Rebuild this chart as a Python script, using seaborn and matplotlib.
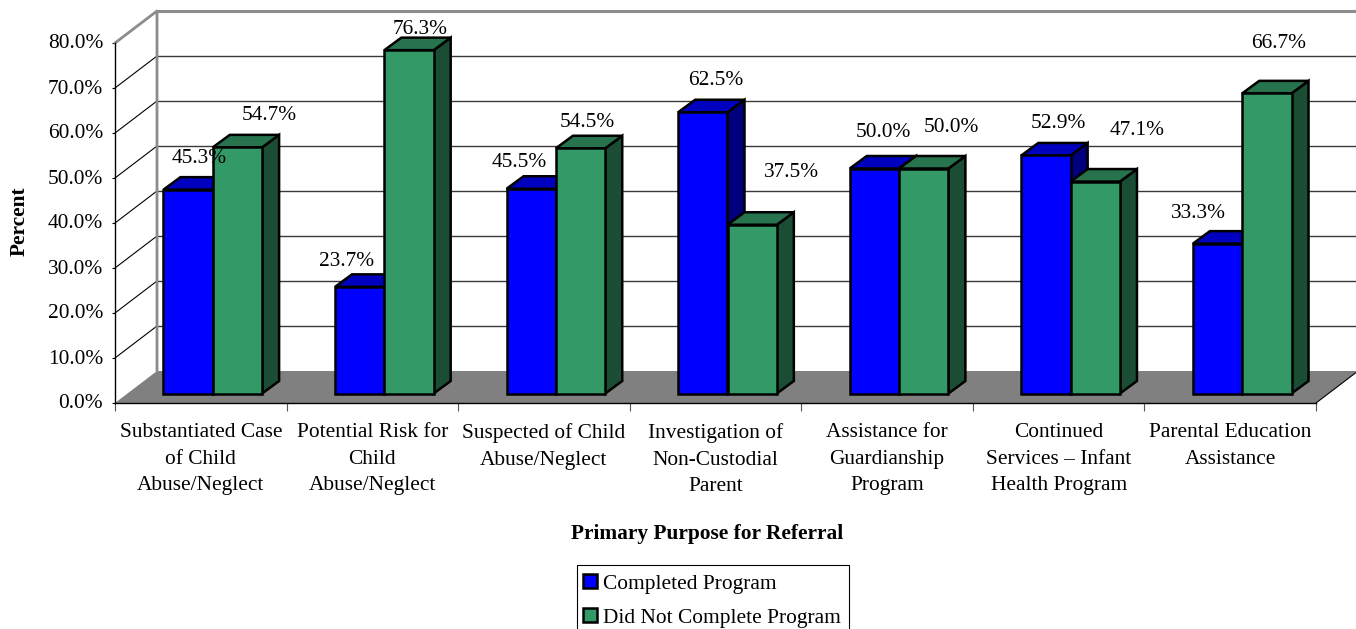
import matplotlib
matplotlib.use("Agg")
import matplotlib.pyplot as plt
from matplotlib.patches import Polygon, Patch, Rectangle
from matplotlib.transforms import Affine2D
import pandas as pd
import seaborn as sns

categories = [
    "Substantiated Case\nof Child\nAbuse/Neglect",
    "Potential Risk for\nChild\nAbuse/Neglect",
    "Suspected of Child\nAbuse/Neglect",
    "Investigation of\nNon-Custodial\nParent",
    "Assistance for\nGuardianship\nProgram",
    "Continued\nServices \u2013 Infant\nHealth Program",
    "Parental Education\nAssistance",
]
completed = [45.3, 23.7, 45.5, 62.5, 50.0, 52.9, 33.3]
not_completed = [54.7, 76.3, 54.5, 37.5, 50.0, 47.1, 66.7]
series_names = ["Completed Program", "Did Not Complete Program"]
y_ticks = [0, 10, 20, 30, 40, 50, 60, 70, 80]

# hand-placed label nudges in pixels from the top centre of each bar
label_nudges = [
    (11, 31), (-13, 25), (-12, 26), (13, 32), (9, 36), (12, 32), (-19, 30),
    (32, 32), (11, 21), (7, 26), (39, 52), (28, 41), (42, 51), (12, 50),
]

W, H = 1356, 629
DPI = 100
FONT_SIZE = 15.4
EDGE = 1.8
FRONT = "#0000FF", "#339966"
TOPS = "#0000BF", "#26734D"
SIDES = "#00007F", "#1A4D33"
WALL_GREY = "#8C8C8C"
GRID = "#3A3A3A"

sns.set_theme(style="white")
plt.rcParams["font.family"] = ["Liberation Serif", "DejaVu Serif"]
plt.rcParams["font.size"] = FONT_SIZE

fig = plt.figure(figsize=(W / DPI, H / DPI), dpi=DPI, facecolor="white")


def pixel_axes(left, right, top, bottom):
    return fig.add_axes([left / W, 1 - bottom / H, (right - left) / W, (bottom - top) / H])


# front plane of the chart box, and the plane the bars stand on
ax = pixel_axes(115, 1316, 43, 403)
bar_ax = pixel_axes(127, 1328, 33.5, 393.5)

xlim = (-0.5, 6.5)
ylim = (0, 80)
px_x = (xlim[1] - xlim[0]) / 1201
px_y = (ylim[1] - ylim[0]) / 360
wall_dx, wall_dy = 42 * px_x, 32 * px_y
bar_dx, bar_dy = 17 * px_x, 12.5 * px_y

ax.set_xlim(xlim)
ax.set_ylim(ylim)
ax.patch.set_visible(False)
ax.set_zorder(1)
bar_ax.set_zorder(2)

# floor and box walls
ax.add_patch(Polygon(
    [(xlim[0], 0), (xlim[1], 0), (xlim[1] + wall_dx, wall_dy), (xlim[0] + wall_dx, wall_dy)],
    closed=True, facecolor="#808080", edgecolor="none", clip_on=False, zorder=1,
))
for v in y_ticks[1:-1]:
    ax.plot([xlim[0], xlim[0] + wall_dx], [v, v + wall_dy], color="black", lw=0.8, clip_on=False, zorder=1)
    ax.plot([xlim[0] + wall_dx, xlim[1] + wall_dx], [v + wall_dy, v + wall_dy],
            color=GRID, lw=1.0, clip_on=False, zorder=1)
ax.plot([xlim[0], xlim[0] + wall_dx, xlim[0] + wall_dx],
        [80, 80 + wall_dy, wall_dy], color=WALL_GREY, lw=2.0, clip_on=False, zorder=1)
ax.plot([xlim[0] + wall_dx, xlim[1] + wall_dx], [80 + wall_dy, 80 + wall_dy],
        color=WALL_GREY, lw=2.2, clip_on=False, zorder=1)
ax.plot([xlim[1], xlim[1] + wall_dx], [0, wall_dy], color="black", lw=0.8, clip_on=False, zorder=1)

# axes, ticks and titles
for side in ("top", "right"):
    ax.spines[side].set_visible(False)
for side in ("left", "bottom"):
    ax.spines[side].set_color("black")
    ax.spines[side].set_linewidth(1.0)
ax.set_yticks(y_ticks)
ax.set_yticklabels([f"{v:.1f}%" for v in y_ticks], fontsize=FONT_SIZE, color="black")
ax.tick_params(axis="y", length=2.5, width=0.8, color="black", pad=6, left=True)
for label in ax.get_yticklabels():
    label.set_transform(label.get_transform() + Affine2D().translate(0, 1.5))
ax.set_xticks(range(len(categories)))
ax.set_xticklabels(categories, fontsize=FONT_SIZE, color="black", linespacing=1.54)
ax.tick_params(axis="x", which="major", length=0, pad=14.5)
ax.set_xticks([i - 0.5 for i in range(len(categories) + 1)], minor=True)
ax.tick_params(axis="x", which="minor", length=6, width=0.8, color="#555555", bottom=True)
fig.text(20 / W, 1 - 221 / H, "Percent", rotation=90, ha="center", va="center",
         fontsize=FONT_SIZE, fontweight="bold", color="black")
fig.text(707 / W, 1 - 534 / H, "Primary Purpose for Referral", ha="center", va="center",
         fontsize=FONT_SIZE, fontweight="bold", color="black")

# bars
data = pd.DataFrame({
    "purpose": categories * 2,
    "percent": completed + not_completed,
    "status": [series_names[0]] * len(categories) + [series_names[1]] * len(categories),
})
sns.barplot(
    data=data, x="purpose", y="percent", hue="status", hue_order=series_names,
    palette=list(FRONT), saturation=1, width=0.575, errorbar=None, legend=False,
    edgecolor="black", linewidth=EDGE, ax=bar_ax,
)
bar_ax.set_xlim(xlim)
bar_ax.set_ylim(ylim)
bar_ax.axis("off")

bars = [p for p in bar_ax.patches if p.get_height() > 0]
n = len(categories)
for i, bar in enumerate(bars):
    s = i // n
    x0, x1 = bar.get_x(), bar.get_x() + bar.get_width()
    h = bar.get_height()
    base_z = 3 + 2 * s
    bar.set_zorder(base_z + 1)
    bar.set_clip_on(False)
    bar_ax.add_patch(Polygon(
        [(x1, 0), (x1 + bar_dx, bar_dy), (x1 + bar_dx, h + bar_dy), (x1, h)], closed=True,
        facecolor=SIDES[s], edgecolor="black", linewidth=EDGE, joinstyle="miter",
        clip_on=False, zorder=base_z,
    ))
    bar_ax.add_patch(Polygon(
        [(x0, h), (x1, h), (x1 + bar_dx, h + bar_dy), (x0 + bar_dx, h + bar_dy)], closed=True,
        facecolor=TOPS[s], edgecolor="black", linewidth=EDGE, joinstyle="miter",
        clip_on=False, zorder=base_z,
    ))
    bar_ax.annotate(
        f"{h:.1f}%", xy=((x0 + x1) / 2, h), xytext=label_nudges[i], textcoords="offset pixels",
        ha="center", va="center", fontsize=FONT_SIZE, color="black", zorder=20, annotation_clip=False,
    )

# legend box runs off the lower edge of the figure
fig.add_artist(Rectangle(
    (576.5 / W, 1 - 640 / H), 272 / W, 75.5 / H, transform=fig.transFigure,
    facecolor="white", edgecolor="black", linewidth=0.8,
))
handles = [Patch(facecolor=c, edgecolor="black", linewidth=EDGE) for c in FRONT]
legend = fig.legend(
    handles, series_names, loc="upper left", bbox_to_anchor=(576 / W, 1 - 567 / H),
    bbox_transform=fig.transFigure, fontsize=FONT_SIZE, frameon=False,
    borderaxespad=0, borderpad=0.35,
    handlelength=0.62, handleheight=0.62, handletextpad=0.28, labelspacing=0.68,
)
for t in legend.get_texts():
    t.set_color("black")

fig.savefig("out.png", dpi=DPI, facecolor="white")
